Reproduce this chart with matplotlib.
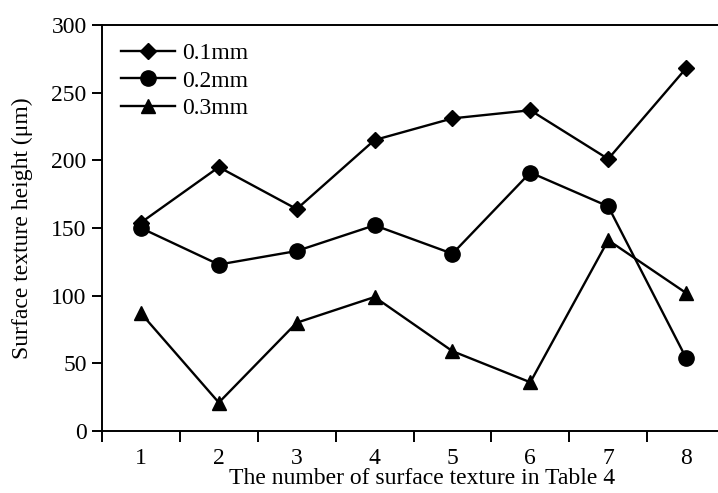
import numpy as np
import matplotlib
matplotlib.use("Agg")
import matplotlib.pyplot as plt

# data
textures = [1, 2, 3, 4, 5, 6, 7, 8]
h_01mm = [154, 195, 164, 215, 231, 237, 201, 268]
h_02mm = [150, 123, 133, 152, 131, 191, 166, 54]
h_03mm = [87, 21, 80, 99, 59, 36, 141, 102]
y_ticks = [0, 50, 100, 150, 200, 250, 300]

plt.rcParams['font.family'] = ['Liberation Serif', 'DejaVu Serif']

fig = plt.figure(figsize=(7.18, 4.93), dpi=100)
# axes runs a little past the right edge, like the cropped original
ax = fig.add_axes([102 / 718, 62 / 493, 623 / 718, 406 / 493])

x = np.array(textures)
ax.plot(x, h_01mm, color='black', lw=1.7, marker='D', ms=7.8, label='0.1mm')
ax.plot(x, h_02mm, color='black', lw=1.7, marker='o', ms=11, label='0.2mm')
ax.plot(x, h_03mm, color='black', lw=1.7, marker='^', ms=10.5, label='0.3mm')

ax.set_xlim(0.5, 8.5)
ax.set_ylim(0, 300)

# category axis: tick marks between categories, labels in the middle
ax.set_xticks(np.arange(0.5, 9.0, 1.0))
ax.set_xticklabels([])
ax.set_xticks(x, minor=True)
ax.set_xticklabels([str(t) for t in textures], minor=True)
ax.tick_params(axis='x', which='major', direction='out', length=8, width=1.4)
ax.tick_params(axis='x', which='minor', length=0, pad=12, labelsize=17)

ax.set_yticks(y_ticks)
ax.tick_params(axis='y', direction='out', length=7, width=1.4, pad=4, labelsize=17)

for s in ax.spines.values():
    s.set_linewidth(1.4)
    s.set_color('black')

ax.set_xlabel('The number of surface texture in Table 4', fontsize=17, va='center')
ax.xaxis.set_label_coords(0.514, -0.117)
ax.set_ylabel('Surface texture height (\u03bcm)', fontsize=17, va='center')
ax.yaxis.set_label_coords(-0.127, 0.5)

ax.legend(loc='upper left', bbox_to_anchor=(0.03, 0.957), frameon=False,
          fontsize=17, borderpad=0, borderaxespad=0, handlelength=2.3,
          handletextpad=0.3, labelspacing=0.26)

fig.savefig('out.png', dpi=100)
